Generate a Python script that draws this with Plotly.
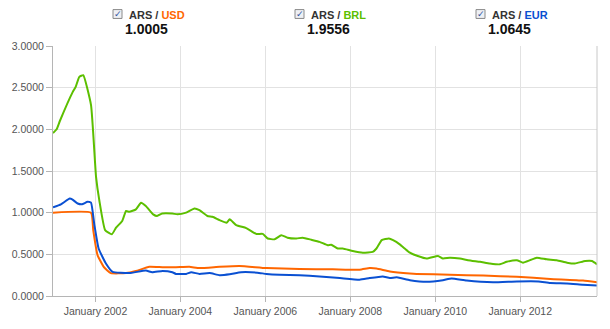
import plotly.graph_objects as go

# ARS exchange rates
brl_dates = ["2001-01-01", "2001-02-01", "2001-03-01", "2001-06-20", "2001-07-15", "2001-08-15",
             "2001-09-18", "2001-11-24", "2002-01-06", "2002-02-04", "2002-03-25", "2002-05-22",
             "2002-06-27", "2002-08-19", "2002-09-21", "2002-10-19", "2002-12-15", "2003-01-28",
             "2003-03-10", "2003-05-12", "2003-06-15", "2003-07-28", "2003-10-24", "2003-12-06",
             "2004-02-20", "2004-05-01", "2004-06-13", "2004-08-20", "2004-10-03", "2004-12-03",
             "2005-02-01", "2005-02-28", "2005-04-25", "2005-07-20", "2005-10-15", "2005-12-09",
             "2006-01-21", "2006-03-21", "2006-05-18", "2006-07-10", "2006-09-24", "2006-11-18",
             "2007-01-31", "2007-04-12", "2007-06-21", "2007-07-21", "2007-09-15", "2007-10-28",
             "2008-01-22", "2008-04-18", "2008-07-12", "2008-08-13", "2008-09-27", "2008-11-28",
             "2009-01-03", "2009-03-01", "2009-04-13", "2009-05-27", "2009-08-03", "2009-10-18",
             "2010-01-24", "2010-03-07", "2010-05-06", "2010-08-01", "2010-10-09", "2011-01-21",
             "2011-04-15", "2011-07-10", "2011-09-06", "2011-12-03", "2012-01-25", "2012-03-25",
             "2012-05-22", "2012-08-16", "2012-11-10", "2013-02-06", "2013-04-15", "2013-07-12",
             "2013-09-09", "2013-10-22"]
brl_values = [1.9556, 2.00, 2.10, 2.45, 2.51, 2.63,
              2.65, 2.29, 1.43, 1.14, 0.79, 0.74,
              0.82, 0.90, 1.02, 1.01, 1.04, 1.12,
              1.08, 0.98, 0.96, 0.99, 0.99, 0.98,
              1.00, 1.05, 1.03, 0.96, 0.95, 0.91,
              0.88, 0.92, 0.85, 0.815, 0.745, 0.745,
              0.69, 0.68, 0.73, 0.70, 0.69, 0.70,
              0.675, 0.65, 0.61, 0.615, 0.57, 0.57,
              0.54, 0.52, 0.53, 0.57, 0.67, 0.69,
              0.67, 0.62, 0.57, 0.52, 0.48, 0.45,
              0.48, 0.45, 0.46, 0.45, 0.43, 0.41,
              0.39, 0.38, 0.41, 0.43, 0.40, 0.43,
              0.46, 0.44, 0.43, 0.40, 0.39, 0.42,
              0.42, 0.38]

usd_dates = ["2001-01-01", "2001-11-24", "2001-12-13", "2002-01-19", "2002-03-16", "2002-05-13",
             "2002-09-21", "2002-12-15", "2003-04-09", "2003-08-01", "2003-11-24", "2004-03-18",
             "2004-06-13", "2004-12-03", "2005-05-24", "2006-01-10", "2006-10-21", "2007-08-03",
             "2008-03-21", "2008-06-15", "2008-08-13", "2008-12-06", "2009-05-27", "2009-07-24",
             "2010-05-06", "2011-02-18", "2011-12-03", "2012-09-15", "2013-06-24", "2013-10-22"]
usd_values = [1.0005, 1.0, 0.79, 0.49, 0.345, 0.275,
              0.275, 0.30, 0.35, 0.345, 0.345, 0.35,
              0.335, 0.35, 0.36, 0.335, 0.325, 0.32,
              0.315, 0.335, 0.33, 0.295, 0.27, 0.265,
              0.255, 0.245, 0.23, 0.205, 0.185, 0.165]

eur_dates = ["2001-01-01", "2001-03-10", "2001-05-25", "2001-06-15", "2001-08-01", "2001-09-07",
             "2001-10-25", "2001-11-24", "2001-12-22", "2002-01-28", "2002-04-01", "2002-05-28",
             "2002-10-19", "2003-03-10", "2003-05-04", "2003-08-01", "2003-10-24", "2003-11-24",
             "2004-02-20", "2004-04-03", "2004-06-13", "2004-09-09", "2004-12-03", "2005-02-28",
             "2005-06-06", "2005-10-24", "2006-01-10", "2006-05-03", "2006-10-21", "2007-04-12",
             "2007-10-03", "2008-03-21", "2008-06-15", "2008-10-06", "2008-12-06", "2009-02-03",
             "2009-05-27", "2009-10-18", "2010-03-07", "2010-05-21", "2010-09-27", "2011-05-12",
             "2011-12-03", "2012-06-06", "2012-09-15", "2013-02-06", "2013-06-24", "2013-10-22"]
eur_values = [1.0645, 1.10, 1.17, 1.16, 1.11, 1.10,
              1.13, 1.12, 0.86, 0.57, 0.39, 0.29,
              0.275, 0.305, 0.285, 0.30, 0.285, 0.265,
              0.265, 0.285, 0.265, 0.275, 0.25, 0.26,
              0.285, 0.28, 0.265, 0.255, 0.25, 0.235,
              0.215, 0.195, 0.215, 0.235, 0.215, 0.225,
              0.19, 0.17, 0.19, 0.21, 0.185, 0.165,
              0.175, 0.175, 0.155, 0.15, 0.135, 0.125]

tick_dates = ["2002-01-01", "2004-01-01", "2006-01-01", "2008-01-01", "2010-01-01", "2012-01-01"]
tick_labels = ["January 2002", "January 2004", "January 2006", "January 2008", "January 2010", "January 2012"]
y_ticks = [0.0, 0.5, 1.0, 1.5, 2.0, 2.5, 3.0]

ORANGE = "#ff6600"
GREEN = "#5cbf00"
BLUE = "#0a50d2"

W, H = 610, 329
L, R, T, B = 53, 13, 46, 29
PW, PH = W - L - R, H - T - B


def px(x):
    return (x - L) / PW


def py(y):
    return (H - B - y) / PH


fig = go.Figure()
for d, v, c, n in [(brl_dates, brl_values, GREEN, "BRL"),
                   (usd_dates, usd_values, ORANGE, "USD"),
                   (eur_dates, eur_values, BLUE, "EUR")]:
    fig.add_trace(go.Scatter(x=d, y=v, mode="lines", name=n,
                             line=dict(color=c, width=2, shape="spline", smoothing=0.4)))

# header: checkbox, pair label and first value for each series
header = [("USD", ORANGE, usd_values[0], 113, 127),
          ("BRL", GREEN, brl_values[0], 295, 309),
          ("EUR", BLUE, eur_values[0], 476, 490)]
shapes = []
annotations = []
for name, col, val, bx, lx in header:
    shapes.append(dict(type="rect", xref="paper", yref="paper",
                       x0=px(bx), x1=px(bx + 9), y0=py(18), y1=py(9),
                       line=dict(color="#8a8a8a", width=1), fillcolor="#eef0f4"))
    annotations.append(dict(xref="paper", yref="paper", x=px(bx + 4.8), y=py(13.5),
                            text="✓", showarrow=False, xanchor="center", yanchor="middle",
                            font=dict(family="DejaVu Sans", size=9, color="#3050a0")))
    annotations.append(dict(xref="paper", yref="paper", x=px(lx), y=py(14.5),
                            text=f"<b>ARS / <span style='color:{col}'>{name}</span></b>",
                            showarrow=False, xanchor="left", yanchor="middle",
                            font=dict(family="Liberation Sans", size=11, color="#333333")))
    annotations.append(dict(xref="paper", yref="paper", x=px(lx + 19), y=py(29),
                            text=f"<b>{val:.4f}</b>", showarrow=False,
                            xanchor="center", yanchor="middle",
                            font=dict(family="Liberation Sans", size=14, color="#111111")))

# right and top frame
shapes.append(dict(type="line", xref="paper", yref="paper", x0=1, x1=1, y0=0, y1=1,
                   line=dict(color="#c8c8c8", width=1)))

fig.update_layout(
    width=W, height=H,
    margin=dict(l=L, r=R, t=T, b=B),
    paper_bgcolor="white", plot_bgcolor="white",
    showlegend=False,
    shapes=shapes, annotations=annotations,
    font=dict(family="Liberation Sans", size=11, color="#555555"),
    xaxis=dict(range=["2001-01-01", "2013-10-22"], tickmode="array",
               tickvals=tick_dates, ticktext=tick_labels,
               showgrid=True, gridcolor="#e2e2e2", gridwidth=1,
               showline=True, linecolor="#b5b5b5", linewidth=1,
               ticks="outside", ticklen=5, tickcolor="#b5b5b5",
               tickfont=dict(size=10.5, color="#555555"), zeroline=False),
    yaxis=dict(range=[0, 3], tickmode="array", tickvals=y_ticks,
               tickformat=".4f", showgrid=True, gridcolor="#e2e2e2", gridwidth=1,
               showline=True, linecolor="#b5b5b5", linewidth=1,
               ticks="outside", ticklen=6, tickcolor="#b5b5b5",
               tickfont=dict(size=10.5, color="#555555"), zeroline=False),
)

fig.write_html("out.html")
